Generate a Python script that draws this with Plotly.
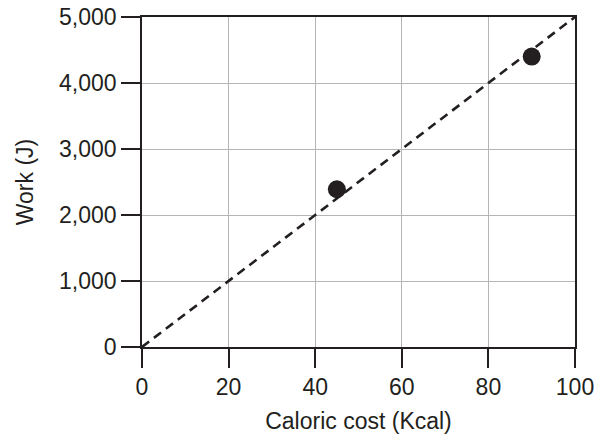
import plotly.graph_objects as go

# data
cost_kcal = [45, 90]
work_j = [2390, 4400]
fit_x = [0, 100]
fit_y = [0, 5000]

x_ticks = [0, 20, 40, 60, 80, 100]
y_ticks = [0, 1000, 2000, 3000, 4000, 5000]
y_labels = ["0", "1,000", "2,000", "3,000", "4,000", "5,000"]

FONT = "Liberation Sans, Arial, sans-serif"
INK = "#231f20"

fig = go.Figure()

fig.add_trace(go.Scatter(
    x=fit_x, y=fit_y, mode="lines",
    line=dict(color=INK, width=2.6, dash="9px,6px"),
    hoverinfo="skip"
))

fig.add_trace(go.Scatter(
    x=cost_kcal, y=work_j, mode="markers",
    marker=dict(color=INK, size=18)
))

axis_common = dict(
    showline=True, linecolor=INK, linewidth=1.6, mirror=True,
    ticks="outside", ticklen=19, tickwidth=1.6, tickcolor=INK,
    showgrid=True, gridcolor="#b5b5b5", gridwidth=1.4,
    zeroline=False,
    tickfont=dict(family=FONT, size=23, color=INK),
)

fig.update_xaxes(
    range=[0, 100], tickvals=x_ticks,
    title=dict(text="Caloric cost (Kcal)", standoff=14,
               font=dict(family=FONT, size=23, color=INK)),
    **axis_common
)
fig.update_yaxes(
    range=[0, 5000], tickvals=y_ticks, ticktext=y_labels,
    title=dict(text="Work (J)", standoff=19,
               font=dict(family=FONT, size=23, color=INK)),
    **axis_common
)

fig.update_layout(
    width=597, height=434,
    margin=dict(l=142, r=22, t=17, b=87, autoexpand=False),
    plot_bgcolor="white", paper_bgcolor="white",
    showlegend=False,
)

fig.write_html("out.html", config={"displayModeBar": False},
               post_script="document.body.style.margin='0';")
